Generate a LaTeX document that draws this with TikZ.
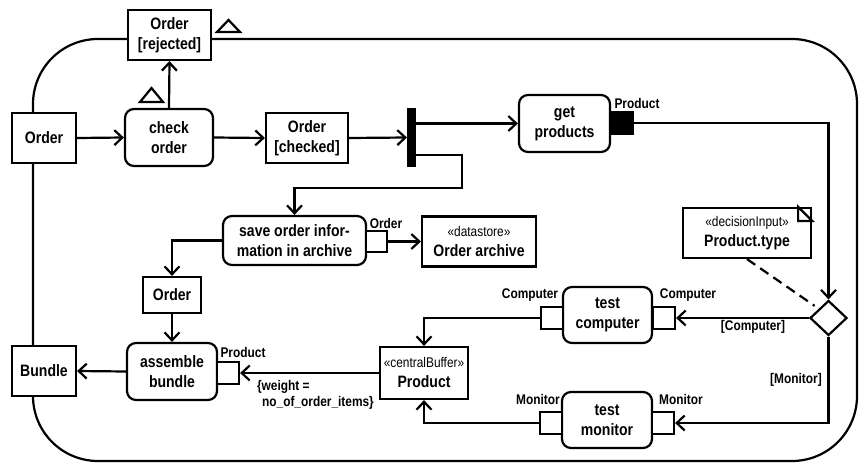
\documentclass[tikz,border=0pt]{standalone}
\usepackage{fontspec}
\setmainfont{Liberation Sans}[FakeStretch=0.85]
\usetikzlibrary{arrows.meta,positioning,calc,shapes.geometric}
\tikzset{>={Straight Barb[length=8pt,width=15pt]}}
\tikzset{
  action/.style={draw,fill=white,rounded corners=9pt,align=center,inner sep=0pt,font=\bfseries\fontsize{16.5}{20}\selectfont},
  object/.style={draw,fill=white,align=center,inner sep=0pt,font=\bfseries\fontsize{16.5}{20}\selectfont},
  pinbox/.style={draw,fill=white,inner sep=0pt,minimum width=22pt,minimum height=22pt},
  pinlabel/.style={font=\bfseries\fontsize{14}{16}\selectfont,inner sep=0pt}
}
\newcommand{\stereo}[1]{{\mdseries\fontsize{14}{15}\selectfont «#1»}}

\begin{document}
\begin{tikzpicture}[x=1pt,y=-1pt,line width=2.2pt]
    \useasboundingbox (0,0) rectangle (859,463);
    % activity frame
    \draw[rounded corners=65pt] (33,39) rectangle (857,461);
    
    \node [object,minimum width=83pt,minimum height=50pt] (rej) at (169.5,35) {Order\\{[rejected]}};
    \node [object,minimum width=64pt,minimum height=50pt] (ordin) at (44,138) {Order};
    \node [action,minimum width=88pt,minimum height=57pt] (check) at (169,137.5) {check\\order};
    \node [object,minimum width=82pt,minimum height=50pt] (checked) at (307,138) {Order\\{[checked]}};
    \node [draw,fill=black,inner sep=0pt,minimum width=7pt,minimum height=57pt] (fork) at (411.5,137.5) {};
    \node [action,minimum width=91pt,minimum height=57pt] (getprod) at (564.5,123.5) {get\\products};
    \node [pinbox,fill=black] (prodpin) at (621.5,123) {};
    \node [pinlabel] (prodlbl) at (637,103) {Product};
    \node [action,minimum width=143pt,minimum height=49pt] (save) at (294.5,240.5) {save order infor-\\mation in archive};
    \node [pinbox,minimum width=21pt,minimum height=21pt] (savepin) at (376.5,241.5) {};
    \node [pinlabel] (savelbl) at (386,223) {Order};
    \node [object,minimum width=114pt,minimum height=50pt] (store) at (479,241.5) {\stereo{datastore}\\Order archive};
    \node [object,minimum width=58pt,minimum height=36pt] (order) at (172,295) {Order};
    \node [action,minimum width=90pt,minimum height=57pt] (assemble) at (172,371.5) {assemble\\bundle};
    \node [pinbox] (asmpin) at (228,373) {};
    \node [pinlabel] (asmlbl) at (243,352) {Product};
    \node [pinlabel,align=left,anchor=west] (weight) at (256,395) {\{weight =\\\hspace{5pt}no\_of\_order\_items\}};
    \node [object,minimum width=88pt,minimum height=52pt] (buffer) at (424,373) {\stereo{centralBuffer}\\Product};
    \node [object,minimum width=64pt,minimum height=50pt] (bundle) at (44,371) {Bundle};
    \node [object,minimum width=128pt,minimum height=50pt] (note) at (747,233) {\stereo{decisionInput}\\Product.type};
    \node [draw,fill=white,diamond,inner sep=0pt,minimum width=37pt,minimum height=35pt] (decide) at (828.5,318) {};
    \node [action,minimum width=89pt,minimum height=56pt] (testcomp) at (607.5,315) {test\\computer};
    \node [pinbox] (compin) at (552,318) {};
    \node [pinbox] (compout) at (664,318) {};
    \node [pinlabel] (compinlbl) at (530,295) {Computer};
    \node [pinlabel] (compoutlbl) at (688,295) {Computer};
    \node [action,minimum width=90pt,minimum height=56pt] (testmon) at (607,420) {test\\monitor};
    \node [pinbox] (monin) at (551,423) {};
    \node [pinbox] (monout) at (663,423) {};
    \node [pinlabel] (moninlbl) at (538,399) {Monitor};
    \node [pinlabel] (monoutlbl) at (681,399) {Monitor};
    \node [pinlabel] (complbl) at (753,327) {[Computer]};
    \node [pinlabel] (monlbl) at (796,380) {[Monitor]};
    
    % exception marks and note corner
    \draw (217,32) -- (240,32) -- (228.5,20) -- cycle;
    \draw (140,102) -- (163,102) -- (151.5,88) -- cycle;
    \draw ([xshift=-14pt]note.north east) -- ([xshift=-14pt,yshift=-14pt]note.north east) -- ([yshift=-14pt]note.north east) -- cycle;
    
    \begin{scope}[->]
    \draw (ordin.east) -- (check.west);
    \draw (check.north) -- (rej.south);
    \draw (check.east) -- (checked.west);
    \draw (checked.east) -- (fork.west);
    \draw (fork.east |- getprod.west) -- (getprod.west);
    \draw ([yshift=-17.5pt]fork.east) -- ++(46,0) -- ++(0,33) -| (save.north);
    \draw (prodpin.east) -| (decide.north);
    \draw (decide.west) -- (compout.east);
    \draw (decide.south) |- (monout.east);
    \draw (compin.west) -| (buffer.north);
    \draw (monin.west) -| (buffer.south);
    \draw (buffer.west) -- (asmpin.east);
    \draw (assemble.west) -- (bundle.east);
    \draw (save.west) -| (order.north);
    \draw (order.south) -- (assemble.north);
    \draw (savepin.east) -- (store.west);
    %\draw (note) -- (decide);
    \end{scope}
    \draw[dash pattern=on 10pt off 6pt,shorten >=5pt] (note.south) -- (decide.north west);
    
\end{tikzpicture}
\end{document}
